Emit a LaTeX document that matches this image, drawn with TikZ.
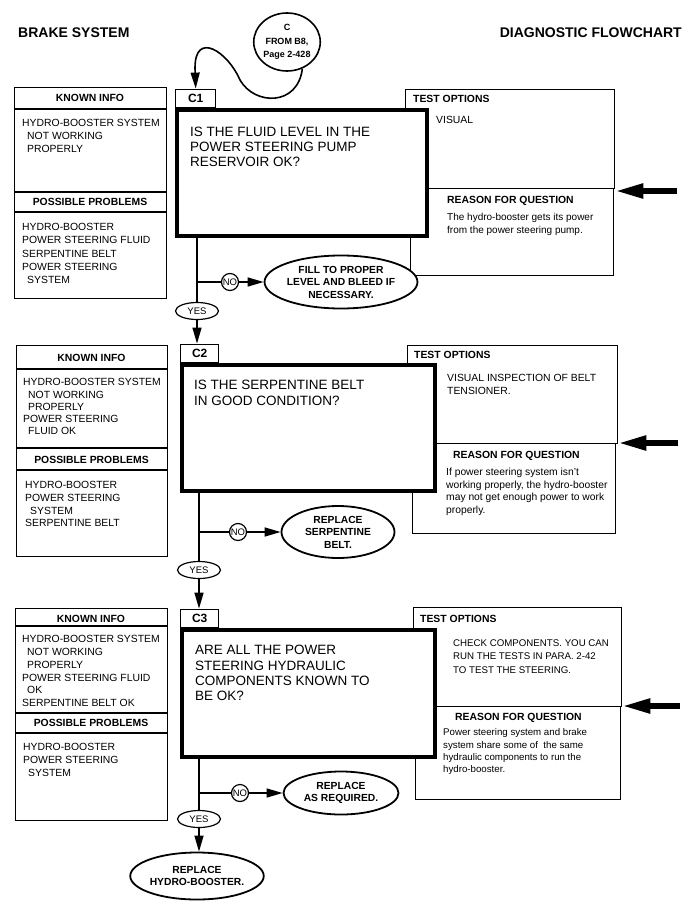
\documentclass[tikz,border=0pt]{standalone}
\usepackage{fontspec}
\setmainfont{Liberation Sans}
\usetikzlibrary{shapes.geometric,arrows.meta}
\newcommand{\fsz}[2]{\fontsize{#1}{#2}\selectfont}
\newcommand{\ind}{\hspace*{5pt}}
\begin{document}
\begin{tikzpicture}[x=1pt,y=-1pt,
  thinbox/.style={draw=black,line width=1.4pt,inner sep=0pt,anchor=north west},
  heavybox/.style={draw=black,line width=4pt,fill=white,inner sep=0pt,anchor=north west},
  tabbox/.style={draw=black,line width=1.4pt,fill=white,inner sep=0pt,anchor=south west,minimum height=18pt,font=\bfseries\fsz{12}{14}},
  divider/.style={line width=1.4pt},
  hdr/.style={font=\bfseries\fsz{10.4}{12.5},inner sep=0pt},
  body/.style={font=\fsz{10.4}{12.7},inner sep=0pt,align=left,anchor=north west},
  ques/.style={font=\fsz{13.5}{15.4},inner sep=0pt,align=left,anchor=north west},
  reason/.style={font=\fsz{10.3}{12.4},inner sep=0pt,align=left,anchor=north west},
  outell/.style={ellipse,draw=black,line width=1.8pt,inner sep=0pt,align=center,font=\bfseries\fsz{10.3}{12.5},fill=white},
  yesell/.style={ellipse,draw=black,line width=1.2pt,inner sep=0pt,minimum width=43pt,minimum height=17pt,font=\fsz{9.5}{11},fill=white},
  nocirc/.style={circle,draw=black,line width=1.2pt,inner sep=0pt,minimum size=17pt,font=\fsz{9.5}{11},fill=white},
  flow/.style={line width=1.4pt},
  arr/.style={line width=1.4pt,-{Triangle[length=16pt,width=9pt]}},
  bigarrow/.style={line width=5.5pt,-{Triangle[length=28pt,width=14pt]}}
]
\fill[white] (0,0) rectangle (690,913);
\useasboundingbox (0,0) rectangle (690,913);

% ---------------- Titles ----------------
\node[font=\bfseries\fsz{14}{16},anchor=west,inner sep=0pt] (title) at (18,33) {BRAKE SYSTEM};
\node[font=\bfseries\fsz{14}{16},anchor=east,inner sep=0pt] (title2) at (682,33) {DIAGNOSTIC FLOWCHART};
\node[ellipse,draw=black,line width=1.6pt,inner sep=0pt,minimum width=66pt,minimum height=58pt,align=center,font=\bfseries\fsz{9}{13.5}] (entry) at (287,42) {C\\FROM B8,\\Page 2-428};

% ================= C1 =================
\node[thinbox,minimum width=152pt,minimum height=211pt] (c1ki) at (14,87) {};
\draw[divider] (14,109) -- (166,109);
\draw[divider] (14,192) -- (166,192);
\draw[divider] (14,212) -- (166,212);
\node[hdr] (c1kih) at (90,98) {KNOWN INFO};
\node[body] (c1kit) at (22,119.3) {HYDRO-BOOSTER SYSTEM\\\ind NOT WORKING\\\ind PROPERLY};
\node[hdr] (c1pph) at (90,202) {POSSIBLE PROBLEMS};
\node[body,font=\fsz{10.4}{13.2}] (c1ppt) at (22,223.3) {HYDRO-BOOSTER\\POWER STEERING FLUID\\SERPENTINE BELT\\POWER STEERING\\\ind SYSTEM};

\node[thinbox,minimum width=209pt,minimum height=99pt] (c1to) at (405,89) {};
\node[thinbox,minimum width=203pt,minimum height=87pt] (c1re) at (410,188) {};
\node[hdr,anchor=west] (c1toh) at (413,99) {TEST OPTIONS};
\node[body] (c1tot) at (436,116.3) {VISUAL};
\node[hdr,anchor=west] (c1reh) at (447,201) {REASON FOR QUESTION};
\node[reason,font=\fsz{10}{13}] (c1ret) at (447,213.2) {The hydro-booster gets its power\\from the power steering pump.};

\node[tabbox,minimum width=40pt] (c1tab) at (175,108) {C1};
\node[heavybox,minimum width=250pt,minimum height=126pt] (c1q) at (175,108) {};
\node[ques,font=\fsz{13.5}{15}] (c1qt) at (190,127.2) {IS THE FLUID LEVEL IN THE\\POWER STEERING PUMP\\RESERVOIR OK?};
\coordinate (c1arr) at (677,191);
\draw[bigarrow] (c1arr) -- (c1arr -| c1to.east);

\node[yesell] (c1yes) at (197,311) {YES};
\node[nocirc] (c1no) at (230,282) {NO};
\node[outell,minimum width=134pt,minimum height=53pt] (c1fill) at (341,282) {FILL TO PROPER\\LEVEL AND BLEED IF\\NECESSARY.};
\draw[flow] (c1yes |- c1q.south) -- (c1yes.north);
\draw[flow] (c1no -| c1yes) -- (c1no.west);
\draw[arr] (c1no.east) -- (c1fill.west);

\draw[line width=1.6pt,-{Triangle[length=16pt,width=9pt]}] (entry.-60) .. controls (298,106) and (255,106) .. (240,80) .. controls (228,52) and (195,30) .. (195,68) -- (c1tab.north);

% ================= C2 =================
\node[thinbox,minimum width=151pt,minimum height=211pt] (c2ki) at (16,345) {};
\draw[divider] (16,369) -- (167,369);
\draw[divider] (16,448) -- (167,448);
\draw[divider] (16,470) -- (167,470);
\node[hdr] (c2kih) at (91.5,358) {KNOWN INFO};
\node[body,font=\fsz{10.4}{12.3}] (c2kit) at (23,378.3) {HYDRO-BOOSTER SYSTEM\\\ind NOT WORKING\\\ind PROPERLY\\POWER STEERING\\\ind FLUID OK};
\node[hdr] (c2pph) at (91.5,460) {POSSIBLE PROBLEMS};
\node[body] (c2ppt) at (25,481.3) {HYDRO-BOOSTER\\POWER STEERING\\\ind SYSTEM\\SERPENTINE BELT};

\node[thinbox,minimum width=210pt,minimum height=98pt] (c2to) at (407,345) {};
\node[thinbox,minimum width=203pt,minimum height=90pt] (c2re) at (412,443) {};
\node[hdr,anchor=west] (c2toh) at (414,355) {TEST OPTIONS};
\node[body,font=\fsz{10.4}{13}] (c2tot) at (447,374.3) {VISUAL INSPECTION OF BELT\\TENSIONER.};
\node[hdr,anchor=west] (c2reh) at (453,456) {REASON FOR QUESTION};
\node[reason] (c2ret) at (446,468.2) {If power steering system isn't\\working properly, the hydro-booster\\may not get enough power to work\\properly.};

\node[tabbox,minimum width=38pt] (c2tab) at (180,363) {C2};
\node[heavybox,minimum width=253pt,minimum height=126pt] (c2q) at (180,363) {};
\node[ques,font=\fsz{13.5}{16}] (c2qt) at (194,380.2) {IS THE SERPENTINE BELT\\IN GOOD CONDITION?};
\coordinate (c2arr) at (678,443);
\draw[bigarrow] (c2arr) -- (c2arr -| c2to.east);

\draw[arr] (c1yes.south) -- (c1yes.south |- c2tab.north);

\node[yesell] (c2yes) at (199,570) {YES};
\node[nocirc] (c2no) at (238,532) {NO};
\node[outell,minimum width=113pt,minimum height=52pt] (c2fill) at (338,532) {REPLACE\\SERPENTINE\\BELT.};
\draw[flow] (c2yes |- c2q.south) -- (c2yes.north);
\draw[flow] (c2no -| c2yes) -- (c2no.west);
\draw[arr] (c2no.east) -- (c2fill.west);

% ================= C3 =================
\node[thinbox,minimum width=152pt,minimum height=212pt] (c3ki) at (15,608) {};
\draw[divider] (15,626) -- (167,626);
\draw[divider] (15,713) -- (167,713);
\draw[divider] (15,733) -- (167,733);
\node[hdr] (c3kih) at (91,619) {KNOWN INFO};
\node[body,font=\fsz{10.4}{12.8}] (c3kit) at (22,635.3) {HYDRO-BOOSTER SYSTEM\\\ind NOT WORKING\\\ind PROPERLY\\POWER STEERING FLUID\\\ind OK\\SERPENTINE BELT OK};
\node[hdr] (c3pph) at (91,723) {POSSIBLE PROBLEMS};
\node[body,font=\fsz{10.4}{13}] (c3ppt) at (23,743.3) {HYDRO-BOOSTER\\POWER STEERING\\\ind SYSTEM};

\node[thinbox,minimum width=208pt,minimum height=99pt] (c3to) at (413,607) {};
\node[thinbox,minimum width=205pt,minimum height=93pt] (c3re) at (415,706) {};
\node[hdr,anchor=west] (c3toh) at (420,619) {TEST OPTIONS};
\node[body,font=\fsz{9.7}{13.5}] (c3tot) at (453,639.5) {CHECK COMPONENTS. YOU CAN\\RUN THE TESTS IN PARA. 2-42\\TO TEST THE STEERING.};
\node[hdr,anchor=west] (c3reh) at (455,718) {REASON FOR QUESTION};
\node[reason,font=\fsz{9.7}{12.4}] (c3ret) at (443,728.5) {Power steering system and brake\\system share some of\ \ the same\\hydraulic components to run the\\hydro-booster.};

\node[tabbox,minimum width=38pt] (c3tab) at (180,628) {C3};
\node[heavybox,minimum width=253pt,minimum height=127pt] (c3q) at (180,628) {};
\node[ques,font=\fsz{13.5}{15.3}] (c3qt) at (195,645.2) {ARE ALL THE POWER\\STEERING HYDRAULIC\\COMPONENTS KNOWN TO\\BE OK?};
\coordinate (c3arr) at (680,706);
\draw[bigarrow] (c3arr) -- (c3arr -| c3to.east);

\draw[arr] (c2yes.south) -- (c2yes.south |- c3tab.north);

\node[yesell] (c3yes) at (199,819) {YES};
\node[nocirc] (c3no) at (240,793) {NO};
\node[outell,minimum width=115pt,minimum height=43pt] (c3fill) at (341,793) {REPLACE\\AS REQUIRED.};
\node[outell,minimum width=120pt,minimum height=47pt] (final) at (197,876) {REPLACE\\HYDRO-BOOSTER.};
\draw[flow] (c3yes |- c3q.south) -- (c3yes.north);
\draw[flow] (c3no -| c3yes) -- (c3no.west);
\draw[arr] (c3no.east) -- (c3fill.west);
\draw[arr] (c3yes.south) -- (c3yes.south |- final.north);
\end{tikzpicture}
\end{document}
